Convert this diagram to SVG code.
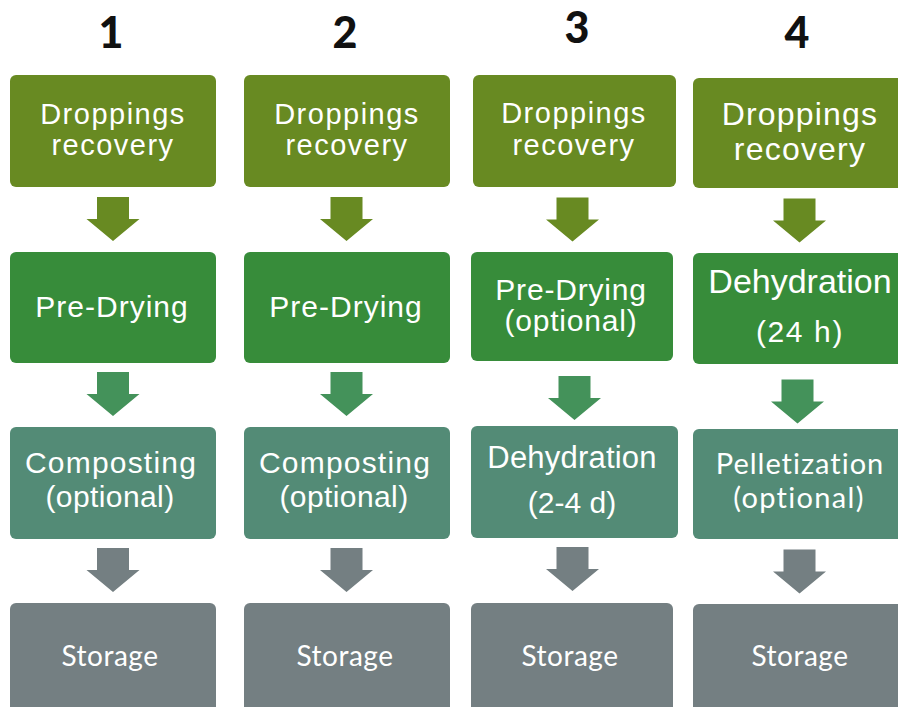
<svg xmlns="http://www.w3.org/2000/svg" xmlns:xlink="http://www.w3.org/1999/xlink" width="898" height="707" viewBox="0 0 898 707">
  <style>
    .s1 { fill: #688A22; }
    .s2 { fill: #378C3A; }
    .s3 { fill: #538B76; }
    .s4 { fill: #747F82; }
    .a2 { fill: #44925A; }
    .num { font-family: Lato, "Liberation Sans", sans-serif; font-weight: 900; font-size: 43px; fill: #111; text-anchor: middle; }
    .t { font-family: "Liberation Sans", Arial, sans-serif; fill: #fff; text-anchor: middle; }
    .c { font-family: Lato, "Liberation Sans", sans-serif; fill: #fff; text-anchor: middle; }
  </style>
  <defs>
    <!-- block arrow, origin at top centre of the shaft -->
    <path id="arrow" d="M-16,0 H16 V22 H26.5 L0,44 L-26.5,22 H-16 Z"/>
  </defs>
  <rect width="898" height="707" fill="#fff"/>

  <!-- column numbers -->
  <g id="headers">
    <text class="num" x="111" y="48">1</text>
    <text class="num" x="345" y="48">2</text>
    <text class="num" x="577" y="43">3</text>
    <text class="num" x="797" y="48">4</text>
  </g>

  <!-- column 1 -->
  <g id="c1-recovery">
    <rect class="s1" x="10" y="75" width="206" height="112" rx="6"/>
    <text class="t" x="113" y="124" font-size="29" letter-spacing="1.5">Droppings</text>
    <text class="t" x="113" y="155" font-size="29" letter-spacing="1.5">recovery</text>
  </g>
  <g id="c1-predrying">
    <rect class="s2" x="10" y="252" width="206" height="111" rx="6"/>
    <text class="t" x="112" y="317" font-size="30" letter-spacing="1">Pre-Drying</text>
  </g>
  <g id="c1-composting">
    <rect class="s3" x="10" y="427" width="206" height="112" rx="6"/>
    <text class="t" x="111" y="473" font-size="30" letter-spacing="1.2">Composting</text>
    <text class="t" x="110" y="507" font-size="30" letter-spacing="0.4">(optional)</text>
  </g>
  <g id="c1-storage">
    <rect class="s4" x="10" y="603" width="206" height="112" rx="6"/>
    <text class="c" x="110" y="666" font-size="28" letter-spacing="0.5">Storage</text>
  </g>

  <!-- column 2 -->
  <g id="c2-recovery">
    <rect class="s1" x="244" y="75" width="206" height="112" rx="6"/>
    <text class="t" x="347" y="124" font-size="29" letter-spacing="1.5">Droppings</text>
    <text class="t" x="347" y="155" font-size="29" letter-spacing="1.5">recovery</text>
  </g>
  <g id="c2-predrying">
    <rect class="s2" x="244" y="252" width="206" height="111" rx="6"/>
    <text class="t" x="346" y="317" font-size="30" letter-spacing="1">Pre-Drying</text>
  </g>
  <g id="c2-composting">
    <rect class="s3" x="244" y="427" width="206" height="112" rx="6"/>
    <text class="t" x="345" y="473" font-size="30" letter-spacing="1.2">Composting</text>
    <text class="t" x="344" y="507" font-size="30" letter-spacing="0.4">(optional)</text>
  </g>
  <g id="c2-storage">
    <rect class="s4" x="244" y="603" width="206" height="112" rx="6"/>
    <text class="c" x="345" y="666" font-size="28" letter-spacing="0.5">Storage</text>
  </g>

  <!-- column 3 -->
  <g id="c3-recovery">
    <rect class="s1" x="473" y="75" width="203" height="112" rx="6"/>
    <text class="t" x="574" y="123" font-size="29" letter-spacing="1.5">Droppings</text>
    <text class="t" x="574" y="155" font-size="29" letter-spacing="1.5">recovery</text>
  </g>
  <g id="c3-predrying">
    <rect class="s2" x="471" y="252" width="202" height="109" rx="6"/>
    <text class="t" x="571" y="300" font-size="30" letter-spacing="0.8">Pre-Drying</text>
    <text class="t" x="571" y="331" font-size="30" letter-spacing="0.8">(optional)</text>
  </g>
  <g id="c3-dehydration">
    <rect class="s3" x="471" y="426" width="207" height="112" rx="6"/>
    <text class="t" x="572" y="468" font-size="31" letter-spacing="0.2">Dehydration</text>
    <text class="t" x="572" y="513" font-size="30">(2-4 d)</text>
  </g>
  <g id="c3-storage">
    <rect class="s4" x="471" y="603" width="202" height="112" rx="6"/>
    <text class="c" x="570" y="666" font-size="28" letter-spacing="0.5">Storage</text>
  </g>

  <!-- column 4 -->
  <g id="c4-recovery">
    <rect class="s1" x="693" y="78" width="220" height="110" rx="6"/>
    <text class="t" x="800" y="125" font-size="32" letter-spacing="1.2">Droppings</text>
    <text class="t" x="800" y="160" font-size="32" letter-spacing="1.2">recovery</text>
  </g>
  <g id="c4-dehydration">
    <rect class="s2" x="693" y="253" width="220" height="111" rx="6"/>
    <text class="t" x="800" y="293" font-size="34">Dehydration</text>
    <text class="t" x="800" y="342" font-size="30" letter-spacing="1.6">(24 h)</text>
  </g>
  <g id="c4-pelletization">
    <rect class="s3" x="693" y="429" width="220" height="110" rx="6"/>
    <text class="c" x="800" y="474" font-size="29" letter-spacing="1">Pelletization</text>
    <text class="c" x="799" y="508" font-size="29" letter-spacing="1.3">(optional)</text>
  </g>
  <g id="c4-storage">
    <rect class="s4" x="693" y="604" width="220" height="112" rx="6"/>
    <text class="c" x="800" y="666" font-size="28" letter-spacing="0.5">Storage</text>
  </g>

  <!-- connectors -->
  <g id="connectors">
    <use xlink:href="#arrow" class="s1" x="113" y="197"/>
    <use xlink:href="#arrow" class="s1" x="346.5" y="197"/>
    <use xlink:href="#arrow" class="s1" x="572.5" y="197.5"/>
    <use xlink:href="#arrow" class="s1" x="799.5" y="198.5"/>

    <use xlink:href="#arrow" class="a2" x="113" y="372"/>
    <use xlink:href="#arrow" class="a2" x="346.5" y="372"/>
    <use xlink:href="#arrow" class="a2" x="574.5" y="376"/>
    <use xlink:href="#arrow" class="a2" x="797.5" y="379.5"/>

    <use xlink:href="#arrow" class="s4" x="113" y="548"/>
    <use xlink:href="#arrow" class="s4" x="346.5" y="548"/>
    <use xlink:href="#arrow" class="s4" x="572.5" y="547"/>
    <use xlink:href="#arrow" class="s4" x="799.5" y="549.5"/>
  </g>
</svg>
